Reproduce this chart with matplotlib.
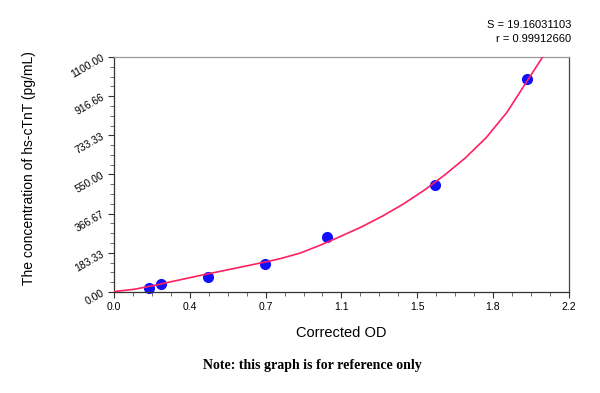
import numpy as np
import matplotlib
matplotlib.use("Agg")
import matplotlib.pyplot as plt
from matplotlib.ticker import AutoMinorLocator

# standards (corrected OD vs concentration)
od = [0.169, 0.227, 0.455, 0.730, 1.030, 1.552, 1.997]
conc = [19, 37, 70, 131, 257, 501, 997]

# fitted curve
curve_x = [0.0, 0.1, 0.2, 0.3, 0.4, 0.5, 0.6, 0.7, 0.8, 0.9, 1.0, 1.1, 1.2, 1.3,
           1.4, 1.5, 1.6, 1.7, 1.8, 1.9, 2.0, 2.1]
curve_y = [2, 13, 32, 53, 74, 94, 114, 134, 155, 182, 220, 262, 306, 356,
           412, 476, 548, 628, 722, 840, 990, 1140]

xticks = [0.0, 2.2 / 6, 2 * 2.2 / 6, 1.1, 4 * 2.2 / 6, 5 * 2.2 / 6, 2.2]
xlabels = ["0.0", "0.4", "0.7", "1.1", "1.5", "1.8", "2.2"]
yticks = [0, 1100 / 6, 2 * 1100 / 6, 550, 4 * 1100 / 6, 5 * 1100 / 6, 1100]
ylabels = ["0.00", "183.33", "366.67", "550.00", "733.33", "916.66", "1100.00"]

plt.rcParams['font.family'] = ['Liberation Sans', 'DejaVu Sans']

fig = plt.figure(figsize=(6, 3.93), dpi=100)
ax = fig.add_axes([0.19, 0.257, 0.758, 0.598])

ax.plot(od, conc, 'o', color='#1010ff', markersize=7, zorder=2, clip_on=False)
ax.plot(curve_x, curve_y, '-', color='#ff2060', linewidth=1.2, zorder=3)

ax.set_xlim(0, 2.2)
ax.set_ylim(0, 1100)
ax.set_xticks(xticks)
ax.set_xticklabels(xlabels, fontsize=7.5)
ax.set_yticks(yticks)
ax.set_yticklabels(ylabels, fontsize=7.5, rotation=30)
ax.xaxis.set_minor_locator(AutoMinorLocator(4))
ax.yaxis.set_minor_locator(AutoMinorLocator(4))
ax.tick_params(which='major', length=4, width=0.8, color='#333333')
ax.tick_params(which='minor', length=3, width=0.6, color='#555555')
ax.tick_params(axis='y', pad=2)

ax.spines['top'].set_color('#999999')
ax.spines['right'].set_color('#444444')
ax.spines['left'].set_color('#333333')
ax.spines['bottom'].set_color('#333333')
for s in ax.spines.values():
    s.set_linewidth(0.9)

ax.set_xlabel('Corrected OD', fontsize=10.5, labelpad=10)
ax.set_ylabel('The concentration of hs-cTnT (pg/mL)', fontsize=10)
ax.yaxis.set_label_coords(-0.171, 0.528)

fig.text(0.952, 0.936, 'S = 19.16031103', ha='right', va='center', fontsize=8)
fig.text(0.952, 0.901, 'r = 0.99912660', ha='right', va='center', fontsize=8)
fig.text(0.52, 0.069, 'Note: this graph is for reference only', ha='center', va='center',
         fontsize=10, fontweight='bold', family=['Liberation Serif', 'DejaVu Serif'])

fig.savefig('out.png', dpi=100)
